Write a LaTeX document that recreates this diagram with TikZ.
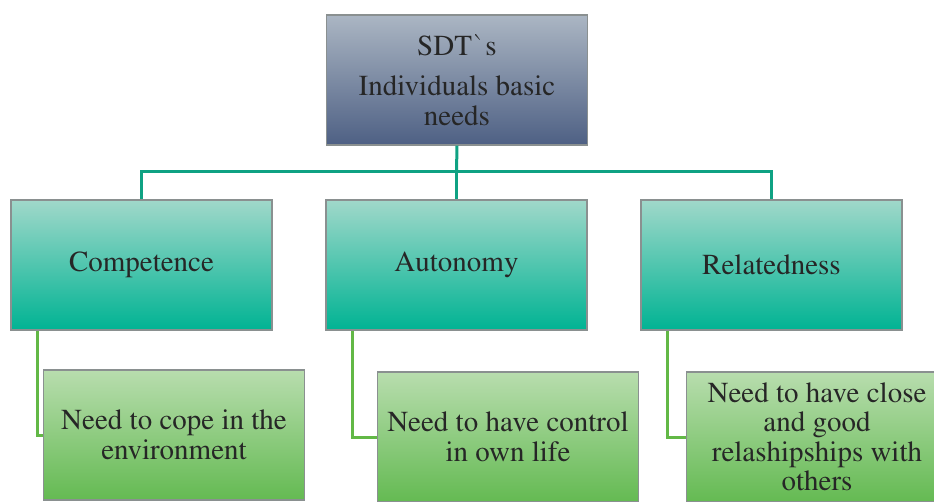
\documentclass[tikz,border=0pt]{standalone}
\usepackage[T1]{fontenc}
\renewcommand{\rmdefault}{ptm}
\definecolor{topT}{HTML}{ABB6C3}
\definecolor{topB}{HTML}{4E6084}
\definecolor{midT}{HTML}{A0D8CA}
\definecolor{midB}{HTML}{00B393}
\definecolor{lowT}{HTML}{B8DDAE}
\definecolor{lowB}{HTML}{64BA52}
\definecolor{edge}{HTML}{8A9090}
\definecolor{tealline}{HTML}{0FA283}
\definecolor{greenline}{HTML}{62B846}
\tikzset{
  box/.style={draw=edge, line width=1.2pt, minimum width=261pt, minimum height=130pt,
     align=center, inner sep=0pt, text=black!85, font=\rmfamily\fontsize{29}{29.5}\selectfont},
  topbox/.style={box, top color=topT, bottom color=topB},
  midbox/.style={box, top color=midT, bottom color=midB},
  lowbox/.style={box, top color=lowT, bottom color=lowB},
  tline/.style={draw=tealline, line width=3pt},
  gline/.style={draw=greenline, line width=3pt}
}
\begin{document}
\begin{tikzpicture}[x=1pt,y=-1pt]
\useasboundingbox (0,0) rectangle (934,502);
\clip (0,0) rectangle (934,502);
\node[topbox] (top) at (457,80) {SDT\textasciigrave s\\[11pt]Individuals basic\\needs};
\node[midbox] (c) at (141.5,265) {Competence};
\node[midbox] (a) at (456.5,265) {Autonomy};
\node[midbox] (r) at (771.5,265) {Relatedness};
\coordinate (j) at (456.5,172);
\draw[tline] (top.south) -- (j);
\draw[tline] (c.north) |- (j) -| (r.north);
\draw[tline] (j) -- (a.north);
\node[lowbox] (cc) at (174,435) {Need to cope in the\\environment};
\node[lowbox] (ac) at (508,437) {Need to have control\\in own life};
\node[lowbox] (rc) at (817,437) {Need to have close\\and good\\relashipships with\\others};
\draw[gline] ([xshift=-104.5pt]c.south) |- (cc.west);
\draw[gline] ([xshift=-104.5pt]a.south) |- (ac.west);
\draw[gline] ([xshift=-104.5pt]r.south) |- (rc.west);
\end{tikzpicture}
\end{document}
